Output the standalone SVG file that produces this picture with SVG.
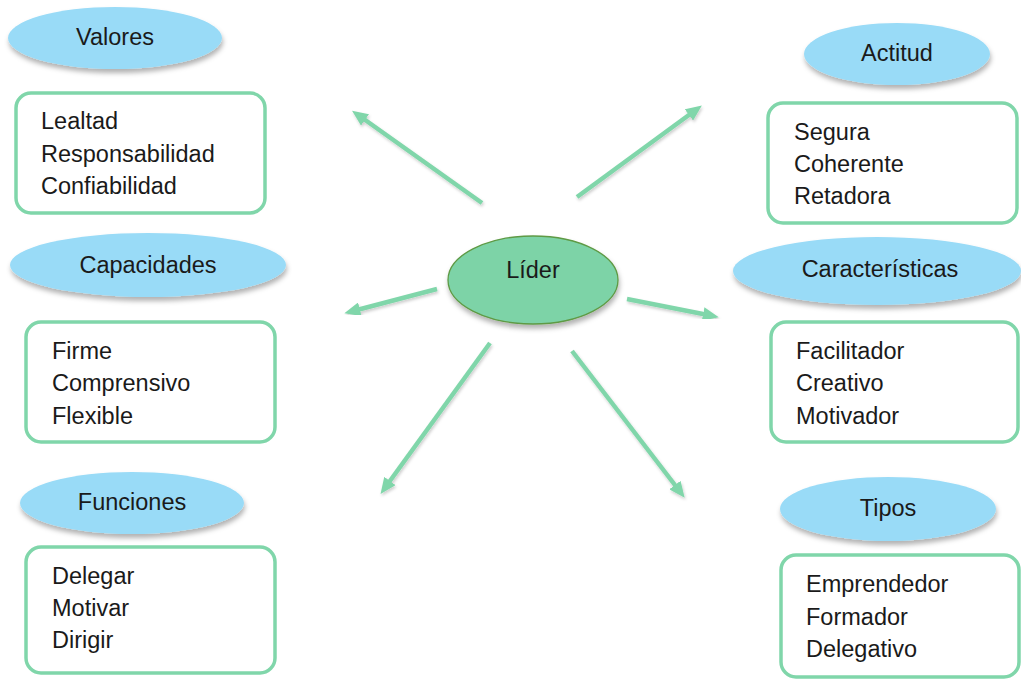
<svg xmlns="http://www.w3.org/2000/svg" width="1021" height="680" viewBox="0 0 1021 680">
<style>
text{font-family:"Liberation Sans",Arial,sans-serif;font-size:23.5px;fill:#1a1a1a}
.c{text-anchor:middle}
.head{fill:#99dbf7;filter:url(#sh)}
.box{fill:#fff;stroke:#80d6aa;stroke-width:3.5}
.arr{stroke:#80d6aa;stroke-width:4.5;fill:none;marker-end:url(#ah);filter:url(#sha)}
</style>
<defs>
<filter id="sh" x="-20%" y="-30%" width="140%" height="170%">
<feDropShadow dx="1" dy="4" stdDeviation="2.5" flood-color="#000" flood-opacity="0.3"/>
</filter>
<filter id="sha" x="-20%" y="-20%" width="140%" height="140%">
<feDropShadow dx="1" dy="2" stdDeviation="1.5" flood-color="#000" flood-opacity="0.2"/>
</filter>
<marker id="ah" markerUnits="userSpaceOnUse" markerWidth="16" markerHeight="14" refX="5" refY="7" orient="auto" viewBox="0 0 16 14">
<path d="M0,0 L16,7 L0,14 z" fill="#80d6aa"/>
</marker>
</defs>
<rect width="1021" height="680" fill="#fff"/>
<g id="connectors">
<line class="arr" x1="482" y1="203" x2="361" y2="117"/>
<line class="arr" x1="577" y1="197" x2="693" y2="112"/>
<line class="arr" x1="437" y1="289" x2="355" y2="310.5"/>
<line class="arr" x1="627" y1="299" x2="708" y2="315"/>
<line class="arr" x1="490" y1="343" x2="387" y2="485"/>
<line class="arr" x1="572" y1="351" x2="678" y2="489"/>
</g>
<g id="lider">
<ellipse cx="533" cy="280" rx="85" ry="44" fill="#7dd3a7" stroke="#5e9a45" stroke-width="1.3" filter="url(#sh)"/>
<text class="c" x="533" y="278">Líder</text>
</g>
<g id="valores">
<ellipse class="head" cx="115" cy="38" rx="107" ry="31"/>
<text class="c" x="115" y="45">Valores</text>
<rect class="box" x="16" y="93" width="249" height="120" rx="15"/>
<text x="41" y="129">Lealtad</text>
<text x="41" y="162">Responsabilidad</text>
<text x="41" y="194">Confiabilidad</text>
</g>
<g id="capacidades">
<ellipse class="head" cx="148" cy="265" rx="138" ry="32"/>
<text class="c" x="148" y="273">Capacidades</text>
<rect class="box" x="26" y="322" width="249" height="120" rx="15"/>
<text x="52" y="359">Firme</text>
<text x="52" y="391">Comprensivo</text>
<text x="52" y="424">Flexible</text>
</g>
<g id="funciones">
<ellipse class="head" cx="132" cy="503" rx="112" ry="31"/>
<text class="c" x="132" y="510">Funciones</text>
<rect class="box" x="26" y="547" width="249" height="126" rx="15"/>
<text x="52" y="584">Delegar</text>
<text x="52" y="616">Motivar</text>
<text x="52" y="648">Dirigir</text>
</g>
<g id="actitud">
<ellipse class="head" cx="897" cy="54" rx="93" ry="31"/>
<text class="c" x="897" y="61">Actitud</text>
<rect class="box" x="768" y="103" width="249" height="120" rx="15"/>
<text x="794" y="140">Segura</text>
<text x="794" y="172">Coherente</text>
<text x="794" y="204">Retadora</text>
</g>
<g id="caracteristicas">
<ellipse class="head" cx="877" cy="271" rx="144" ry="34"/>
<text class="c" x="880" y="277">Características</text>
<rect class="box" x="771" y="322" width="247" height="120" rx="15"/>
<text x="796" y="359">Facilitador</text>
<text x="796" y="391">Creativo</text>
<text x="796" y="424">Motivador</text>
</g>
<g id="tipos">
<ellipse class="head" cx="888" cy="509" rx="108" ry="32"/>
<text class="c" x="888" y="516">Tipos</text>
<rect class="box" x="781" y="555" width="238" height="122" rx="15"/>
<text x="806" y="592">Emprendedor</text>
<text x="806" y="625">Formador</text>
<text x="806" y="657">Delegativo</text>
</g>
</svg>
